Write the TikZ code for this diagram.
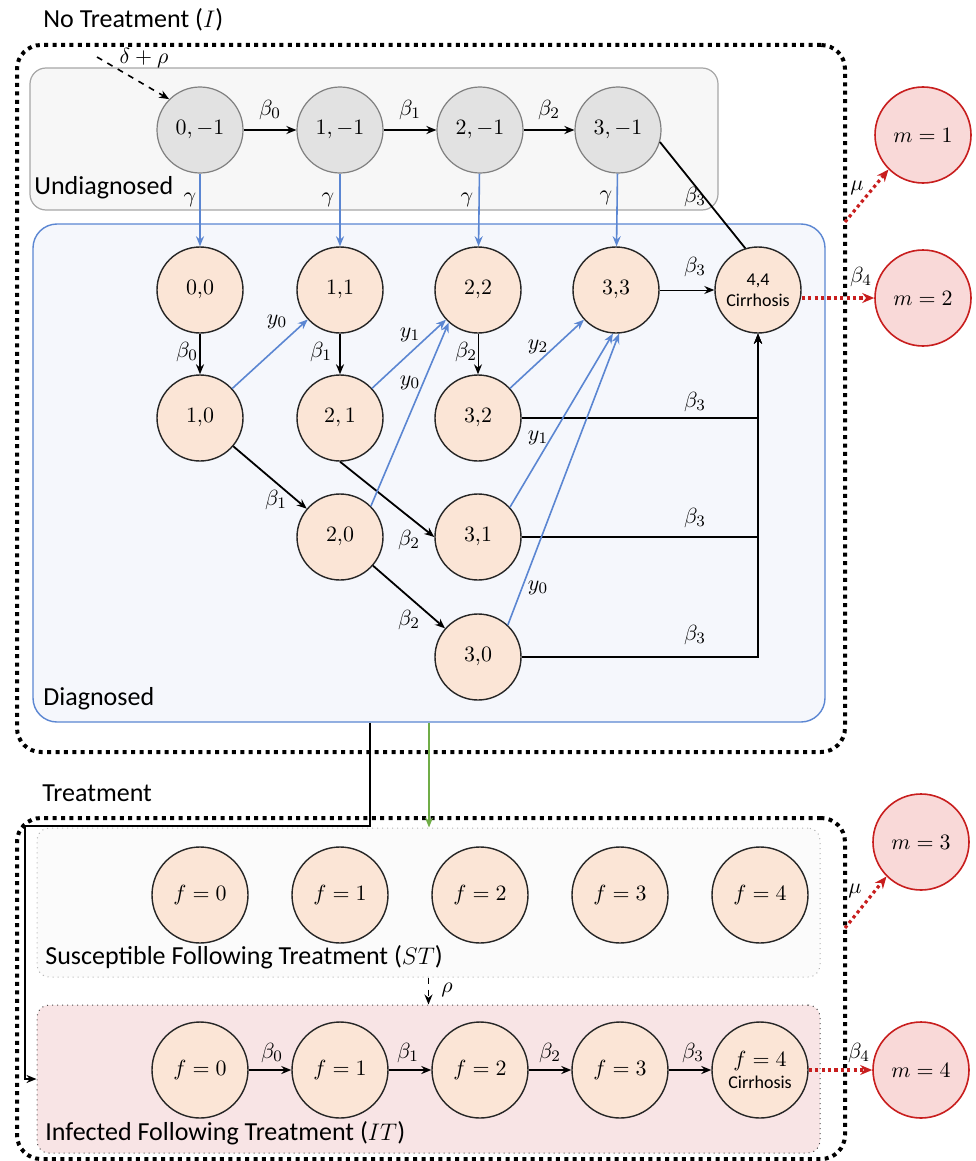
\documentclass[tikz,border=0pt]{standalone}
\usepackage{fontspec}
\setmainfont{Carlito}
\usetikzlibrary{arrows.meta, positioning}

\definecolor{undiagfill}{HTML}{F7F7F7}
\definecolor{undiagdraw}{HTML}{A6A6A6}
\definecolor{graynode}{HTML}{E2E2E2}
\definecolor{graydraw}{HTML}{808080}
\definecolor{diagfill}{HTML}{F5F7FC}
\definecolor{diagblue}{HTML}{5B86D2}
\definecolor{peach}{HTML}{FBE5D6}
\definecolor{deathfill}{HTML}{F9D9D8}
\definecolor{deathred}{HTML}{C81E1E}
\definecolor{stfill}{HTML}{FBFBFB}
\definecolor{itfill}{HTML}{F8E4E5}
\definecolor{treatgreen}{HTML}{70AD47}

\begin{document}
\begin{tikzpicture}[
    x=0.5pt, y=-0.5pt, >={Stealth[length=5pt,width=4pt]},
    greystate/.style={circle, draw=graydraw, fill=graynode, line width=0.6pt,
      minimum size=43pt, inner sep=0pt, font=\fontsize{10.5}{12}\selectfont},
    peachstate/.style={circle, draw=black!85, fill=peach, line width=0.7pt,
      minimum size=43pt, inner sep=0pt, font=\fontsize{10.5}{12}\selectfont},
    bigstate/.style={peachstate, minimum size=48pt, align=center,
      font=\fontsize{11}{12}\selectfont},
    deathstate/.style={circle, draw=deathred, fill=deathfill, line width=0.8pt,
      minimum size=48pt, inner sep=0pt, font=\fontsize{11}{12}\selectfont},
    lbl/.style={inner sep=1pt, font=\fontsize{11}{13}\selectfont},
    boxlbl/.style={anchor=west, inner sep=0pt, font=\fontsize{13}{15}\selectfont},
    phase/.style={draw, line width=2pt, dash pattern=on 2pt off 2.2pt,
      rounded corners=12pt, minimum width=414pt, inner sep=0pt},
    flow/.style={->, line width=0.9pt},
    thinflow/.style={->, line width=0.5pt},
    blueflow/.style={->, draw=diagblue, line width=0.8pt},
    redflow/.style={-{Stealth[length=6pt,width=5pt]}, draw=deathred,
      line width=1.6pt, dash pattern=on 1.6pt off 1.6pt}
  ]
  \useasboundingbox (0,0) rectangle (975,1161);

  % phases
  \node[phase, minimum height=353.5pt] (notreat) at (431,398.5) {};
  \node[phase, minimum height=170.5pt] (treat) at (431,988.5) {};
  \node[boxlbl] (notreatlbl) at (43,20) {No Treatment ($I$)};
  \node[boxlbl] (treatlbl) at (42,793) {Treatment};

  % groups
  \node[draw=undiagdraw, fill=undiagfill, rounded corners=8pt, line width=0.6pt,
        minimum width=344pt, minimum height=71pt, inner sep=0pt] (undiag)
    at (374,139) {};
  \node[draw=diagblue, fill=diagfill, rounded corners=12pt, line width=0.7pt,
        minimum width=396pt, minimum height=249pt, inner sep=0pt] (diagbox)
    at (429,473) {};
  \node[draw=gray!60, dotted, fill=stfill, rounded corners=6pt, line width=0.5pt,
        minimum width=391.5pt, minimum height=74.5pt, inner sep=0pt] (stbox)
    at (428.5,902.5) {};
  \node[draw=black!70, dotted, fill=itfill, rounded corners=6pt, line width=0.5pt,
        minimum width=391.5pt, minimum height=74pt, inner sep=0pt] (itbox)
    at (428.5,1079) {};
  \node[boxlbl] (undiaglbl) at (34,188) {Undiagnosed};
  \node[boxlbl] (diaglbl) at (43,699) {Diagnosed};
  \node[boxlbl] (stlbl) at (45,957) {Susceptible Following Treatment ($ST$)};
  \node[boxlbl] (itlbl) at (45,1133) {Infected Following Treatment ($IT$)};

  % undiagnosed states
  \node[greystate] (u0) at (200,130) {$0,-1$};
  \node[greystate] (u1) at (340,130) {$1,-1$};
  \node[greystate] (u2) at (480,130) {$2,-1$};
  \node[greystate] (u3) at (618,130) {$3,-1$};

  % diagnosed states
  \node[peachstate] (d00) at (200,290) {$0{,}0$};
  \node[peachstate] (d11) at (340,290) {$1{,}1$};
  \node[peachstate] (d22) at (478,290) {$2{,}2$};
  \node[peachstate] (d33) at (616,290) {$3{,}3$};
  \node[peachstate, align=center, font=\fontsize{9}{10.5}\selectfont] (d44)
    at (758,290) {4,4\\Cirrhosis};
  \node[peachstate] (d10) at (200,418) {$1{,}0$};
  \node[peachstate] (d21) at (340,418) {$2,1$};
  \node[peachstate] (d32) at (478,418) {$3{,}2$};
  \node[peachstate] (d20) at (340,537) {$2{,}0$};
  \node[peachstate] (d31) at (478,537) {$3{,}1$};
  \node[peachstate] (d30) at (478,657) {$3{,}0$};

  % treatment states
  \node[bigstate] (s0) at (200,895) {$f=0$};
  \node[bigstate] (s1) at (340,895) {$f=1$};
  \node[bigstate] (s2) at (480,895) {$f=2$};
  \node[bigstate] (s3) at (620,895) {$f=3$};
  \node[bigstate] (s4) at (760,895) {$f=4$};
  \node[bigstate] (f0) at (200,1070) {$f=0$};
  \node[bigstate] (f1) at (340,1070) {$f=1$};
  \node[bigstate] (f2) at (480,1070) {$f=2$};
  \node[bigstate] (f3) at (620,1070) {$f=3$};
  \node[bigstate] (f4) at (760,1070)
    {$f=4$\\[-1pt]{\fontsize{9}{10.5}\selectfont Cirrhosis}};

  % death states
  \node[deathstate] (m1) at (923,135) {$m=1$};
  \node[deathstate] (m2) at (923,298) {$m=2$};
  \node[deathstate] (m3) at (921,842) {$m=3$};
  \node[deathstate] (m4) at (921,1070) {$m=4$};

  % undiagnosed progression
  \coordinate (inflow) at (97,57);
  \draw[->, dashed, line width=0.8pt] (inflow) -- (u0.135);
  \node[lbl] (lbdr) at (144,58) {$\delta+\rho$};
  \draw[flow] (u0) -- (u1);
  \draw[flow] (u1) -- (u2);
  \draw[flow] (u2) -- (u3);
  \draw[line width=0.9pt] (u3.-16) -- (d44.107);
  \node[lbl] (lbu0) at (270,110) {$\beta_0$};
  \node[lbl] (lbu1) at (410,110) {$\beta_1$};
  \node[lbl] (lbu2) at (549,110) {$\beta_2$};
  \node[lbl] (lbu3) at (695,197) {$\beta_3$};

  % diagnosis
  \draw[blueflow] (u0) -- (d00);
  \draw[blueflow] (u1) -- (d11);
  \draw[blueflow] (u2) -- (d22);
  \draw[blueflow] (u3) -- (d33);
  \node[lbl] (lbg0) at (190,200) {$\gamma$};
  \node[lbl] (lbg1) at (328,200) {$\gamma$};
  \node[lbl] (lbg2) at (467,200) {$\gamma$};
  \node[lbl] (lbg3) at (606,198) {$\gamma$};

  % diagnosed progression
  \draw[flow] (d00) -- (d10);
  \draw[flow] (d11) -- (d21);
  \draw[thinflow] (d22) -- (d32);
  \draw[flow] (d10) -- (d20);
  \draw[flow] (d21.south) -- (d31.west);
  \draw[flow] (d20) -- (d30);
  \draw[thinflow] (d33) -- (d44);
  \draw[flow] (d32.east) -| (d44.south);
  \draw[flow] (d31.east) -| (d44.south);
  \draw[flow] (d30.east) -| (d44.south);
  \node[lbl] (lbd0) at (187,352) {$\beta_0$};
  \node[lbl] (lbd1) at (321,352) {$\beta_1$};
  \node[lbl] (lbd2) at (466,352) {$\beta_2$};
  \node[lbl] (lbd3) at (276,500) {$\beta_1$};
  \node[lbl] (lbd4) at (409,540) {$\beta_2$};
  \node[lbl] (lbd5) at (409,620) {$\beta_2$};
  \node[lbl] (lbd6) at (695,267) {$\beta_3$};
  \node[lbl] (lbd7) at (695,402) {$\beta_3$};
  \node[lbl] (lbd8) at (695,518) {$\beta_3$};
  \node[lbl] (lbd9) at (695,635) {$\beta_3$};

  % recovery of the marker
  \draw[blueflow] (d10) -- (d11);
  \draw[blueflow] (d21) -- (d22);
  \draw[blueflow] (d20.45) -- (d22.228);
  \draw[blueflow] (d32) -- (d33);
  \draw[blueflow] (d31.43) -- (d33.-94);
  \draw[blueflow] (d30.47) -- (d33.-86);
  \node[lbl] (lby0) at (277,322) {$y_0$};
  \node[lbl] (lby1) at (410,335) {$y_1$};
  \node[lbl] (lby2) at (410,383) {$y_0$};
  \node[lbl] (lby3) at (538,347) {$y_2$};
  \node[lbl] (lby4) at (538,438) {$y_1$};
  \node[lbl] (lby5) at (538,588) {$y_0$};

  % into treatment
  \coordinate (rejoin) at (25,826);
  \draw[->, draw=treatgreen, line width=1pt] (diagbox.south) --
    (diagbox.south |- stbox.north);
  \draw[flow] ([xshift=-29.5pt]diagbox.south) |- (rejoin) |- (itbox.west);
  \draw[->, dashed, line width=0.8pt] (stbox.south) -- (stbox.south |- itbox.north);
  \node[lbl] (lbrho) at (447,990) {$\rho$};

  % treated progression
  \draw[flow] (f0) -- (f1);
  \draw[flow] (f1) -- (f2);
  \draw[flow] (f2) -- (f3);
  \draw[flow] (f3) -- (f4);
  \node[lbl] (lbf0) at (272,1053) {$\beta_0$};
  \node[lbl] (lbf1) at (408,1053) {$\beta_1$};
  \node[lbl] (lbf2) at (550,1053) {$\beta_2$};
  \node[lbl] (lbf3) at (693,1053) {$\beta_3$};

  % mortality
  \coordinate (exitI) at (845,222);
  \coordinate (exitT) at (845,928);
  \draw[redflow] (exitI) -- (m1.225);
  \draw[redflow] (d44.east |- m2.west) -- (m2.west);
  \draw[redflow] (exitT) -- (m3.225);
  \draw[redflow] (f4.east) -- (m4.west);
  \node[lbl] (lbm1) at (857,188) {$\mu$};
  \node[lbl] (lbm2) at (861,277) {$\beta_4$};
  \node[lbl] (lbm3) at (855,891) {$\mu$};
  \node[lbl] (lbm4) at (859,1053) {$\beta_4$};
\end{tikzpicture}
\end{document}
